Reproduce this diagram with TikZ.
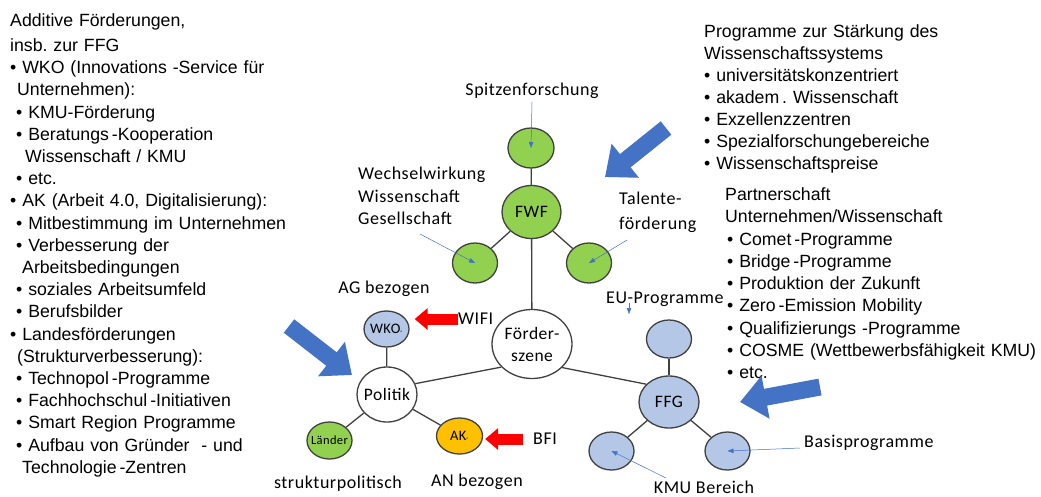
\documentclass[tikz,border=0pt]{standalone}
\usepackage{fontspec}
\setmainfont{Liberation Sans}
\newfontfamily\calfont[LetterSpace=3]{Carlito}
\usetikzlibrary{shapes.geometric,arrows.meta}
\definecolor{mylime}{RGB}{146, 208, 80}
\definecolor{mysky}{RGB}{180, 199, 231}
\definecolor{myamber}{RGB}{255, 192, 0}
\definecolor{myblue}{RGB}{68, 114, 196}
\definecolor{myred}{RGB}{255, 0, 0}
\definecolor{mygrey}{RGB}{64, 64, 64}
\frenchspacing

\begin{document}
\begin{tikzpicture}[x=1pt,y=-1pt,
        kreis/.style={ellipse,draw=mygrey,line width=1.3pt,inner sep=-4pt,font=\calfont\fontsize{17.5}{22}\selectfont},
        ast/.style={draw=mygrey,line width=1.3pt},
        zeiger/.style={draw=myblue,line width=0.5pt,-{Triangle[length=6pt,width=4.5pt]}},
        rotpfeil/.style={draw=myred,line width=11pt,-{Triangle[length=13pt,width=21pt]}},
        blaupfeil/.style={draw=myblue,line width=17pt,-{Triangle[length=26pt,width=42pt]}},
        lab/.style={font=\calfont\fontsize{18}{22.5}\selectfont,inner sep=0pt},
        liste/.style={font=\fontsize{17.7}{22.2}\selectfont,inner sep=0pt,text width=340pt,align=left,anchor=base west}]
        \path[use as bounding box,fill=white] (0,0) rectangle (1041,496);

        \node[liste] (zusatz) at (10,26.4) {Additive Förderungen,\\[2.8pt]
insb. zur FFG\\
\textbullet{} WKO (Innovations -Service für\\
\hspace*{7pt}Unternehmen):\\
\hspace*{6pt}\textbullet{} KMU-Förderung\\
\hspace*{6pt}\textbullet{} Beratungs\,-Kooperation\\
\hspace*{15pt}Wissenschaft / KMU\\
\hspace*{6pt}\textbullet{} etc.\\
\textbullet{} AK (Arbeit 4.0, Digitalisierung):\\
\hspace*{6pt}\textbullet{} Mitbestimmung im Unternehmen\\
\hspace*{6pt}\textbullet{} Verbesserung der\\
\hspace*{12pt}Arbeitsbedingungen\\
\hspace*{6pt}\textbullet{} soziales Arbeitsumfeld\\
\hspace*{6pt}\textbullet{} Berufsbilder\\
\textbullet{} Landesförderungen\\
\hspace*{7pt}(Strukturverbesserung):\\
\hspace*{6pt}\textbullet{} Technopol\,-Programme\\
\hspace*{6pt}\textbullet{} Fachhochschul\,-Initiativen\\
\hspace*{6pt}\textbullet{} Smart Region Programme\\
\hspace*{6pt}\textbullet{} Aufbau von Gründer\ \ - und\\
\hspace*{12pt}Technologie\,-Zentren};

        \node[liste,font=\fontsize{17.7}{22}\selectfont] (wissliste) at (704,37.4) {Programme zur Stärkung des\\
Wissenschaftssystems\\
\textbullet{} universitätskonzentriert\\
\textbullet{} akadem\,. Wissenschaft\\
\textbullet{} Exzellenzzentren\\
\textbullet{} Spezialforschungebereiche\\
\textbullet{} Wissenschaftspreise};

        \node[liste,font=\fontsize{17.7}{22.3}\selectfont] (partnerliste) at (725,200.4) {Partnerschaft\\
Unternehmen/Wissenschaft\\
\hspace*{2pt}\textbullet{} Comet\,-Programme\\
\hspace*{2pt}\textbullet{} Bridge\,-Programme\\
\hspace*{2pt}\textbullet{} Produktion der Zukunft\\
\hspace*{2pt}\textbullet{} Zero\,-Emission Mobility\\
\hspace*{2pt}\textbullet{} Qualifizierungs -Programme\\
\hspace*{2pt}\textbullet{} COSME (Wettbewerbsfähigkeit KMU)\\
\hspace*{2pt}\textbullet{} etc.};

        \node[kreis,fill=mylime,minimum width=46pt,minimum height=40pt] (spitze) at (531,148) {};
        \node[kreis,fill=mylime,minimum width=59pt,minimum height=53pt] (fwf) at (531.5,212) {FWF};
        \node[kreis,fill=mylime,minimum width=45pt,minimum height=40pt] (wechsel) at (475,263) {};
        \node[kreis,fill=mylime,minimum width=45pt,minimum height=40pt] (talente) at (589,263) {};
        \node[kreis,fill=white,minimum width=80pt,minimum height=69pt,align=center] (szene) at (532,344) {Förder-\\szene};
        \node[kreis,fill=mysky,minimum width=45pt,minimum height=36pt,font=\calfont\fontsize{14.5}{16}\selectfont] (wko) at (386.5,329) {WKO\raisebox{-1pt}{\fontsize{5}{5}\selectfont ®}};
        \node[kreis,fill=white,minimum width=60pt,minimum height=55pt] (politik) at (387,394.5) {Politik};
        \node[kreis,fill=mylime,minimum width=45pt,minimum height=37pt,font=\calfont\fontsize{12.5}{14}\selectfont] (laender) at (329.5,440.5) {Länder};
        \node[kreis,fill=myamber,minimum width=46pt,minimum height=36pt,font=\calfont\fontsize{14.5}{16}\selectfont] (ak) at (459.5,436) {AK\raisebox{-1pt}{\fontsize{5}{5}\selectfont ®}};
        \node[kreis,fill=mysky,minimum width=60pt,minimum height=52pt] (ffg) at (669,402) {FFG};
        \node[kreis,fill=mysky,minimum width=45pt,minimum height=38pt] (ffgoben) at (669,339) {};
        \node[kreis,fill=mysky,minimum width=45pt,minimum height=38pt] (kmu) at (611.5,451) {};
        \node[kreis,fill=mysky,minimum width=45pt,minimum height=38pt] (basis) at (727.5,451) {};

        \draw[ast] (fwf) -- (spitze);
        \draw[ast] (fwf) -- (wechsel);
        \draw[ast] (fwf) -- (talente);
        \draw[ast] (fwf) -- (szene);
        \draw[ast] (szene.217) -- (politik.21);
        \draw[ast] (szene.-38) -- (ffg.142);
        \draw[ast] (politik) -- (wko);
        \draw[ast] (politik) -- (laender);
        \draw[ast] (politik) -- (ak);
        \draw[ast] (ffg) -- (ffgoben);
        \draw[ast] (ffg) -- (kmu);
        \draw[ast] (ffg) -- (basis);

        \node[lab] (spitzelab) at (532,91) {Spitzenforschung};
        \node[lab,align=left,anchor=west] (wechsellab) at (358,196) {Wechselwirkung\\Wissenschaft\\Gesellschaft};
        \node[lab,align=left,anchor=west,font=\calfont\fontsize{18}{25}\selectfont] (talentelab) at (619,212.5) {Talente-\\förderung};
        \node[lab,anchor=west] (eulab) at (606,299) {EU-Programme};
        \node[lab] (aglab) at (384,289) {AG bezogen};
        \node[lab,anchor=west] (wifi) at (458,319) {WIFI};
        \node[lab,anchor=west] (bfi) at (533,439) {BFI};
        \node[lab] (strukturlab) at (338,484) {strukturpolitisch};
        \node[lab] (anlab) at (477,482) {AN bezogen};
        \node[lab] (kmulab) at (704,487) {KMU Bereich};
        \node[lab,anchor=west] (basislab) at (804,443) {Basisprogramme};

        \coordinate (spitzestart) at (532,102);
        \coordinate (wechselstart) at (420,234);
        \coordinate (talentestart) at (627,240);
        \coordinate (eustart) at (629,303);
        \coordinate (euende) at (629,314);
        \coordinate (kmustart) at (666,478);
        \coordinate (basisstart) at (800,448);
        \draw[zeiger] (spitzestart) -- (spitze.center);
        \draw[zeiger] (wechselstart) -- (wechsel.center);
        \draw[zeiger] (talentestart) -- (talente.center);
        \draw[zeiger] (eustart) -- (euende);
        \draw[zeiger] (kmustart) -- (kmu.center);
        \draw[zeiger] (basisstart) -- (basis.center);

        \draw[rotpfeil,shorten >=5pt] (wifi.west) -- (wifi.west -| wko.east);
        \draw[rotpfeil,shorten <=10pt,shorten >=2pt] (bfi.west) -- (bfi.west -| ak.east);

        \coordinate (wissstart) at (666,128);
        \coordinate (wissende) at (605,177);
        \coordinate (polstart) at (289,326);
        \coordinate (polende) at (352,375);
        \coordinate (ffgstart) at (820,387);
        \coordinate (ffgende) at (740,402);
        \draw[blaupfeil] (wissstart) -- (wissende);
        \draw[blaupfeil] (polstart) -- (polende);
        \draw[blaupfeil] (ffgstart) -- (ffgende);
\end{tikzpicture}
\end{document}
